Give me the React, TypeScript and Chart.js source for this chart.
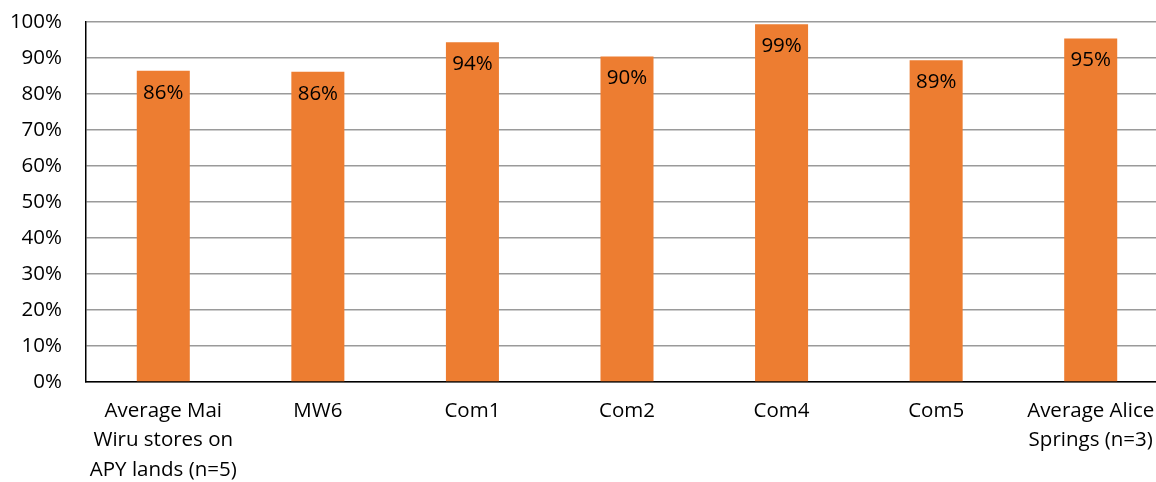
import React, { useEffect, useRef } from "react";
import { Chart, registerables } from "chart.js";

Chart.register(...registerables);

const categories: (string | string[])[] = [
  ["Average Mai", "Wiru stores on", "APY lands (n=5)"],
  "MW6",
  "Com1",
  "Com2",
  "Com4",
  "Com5",
  ["Average Alice", "Springs (n=3)"],
];
const values = [86.45, 86.2, 94.4, 90.4, 99.4, 89.4, 95.4];
const yTicks = [0, 10, 20, 30, 40, 50, 60, 70, 80, 90, 100];

const FONT = "'Open Sans', sans-serif";
const FS = 20.5;

const barLabels = {
  id: "barLabels",
  afterDatasetsDraw(chart: any) {
    const ctx = chart.ctx;
    const meta = chart.getDatasetMeta(0);
    ctx.save();
    ctx.font = `${FS}px ${FONT}`;
    ctx.fillStyle = "#000";
    ctx.textAlign = "center";
    ctx.textBaseline = "middle";
    meta.data.forEach((bar: any, i: number) => {
      ctx.fillText(Math.round(values[i]) + "%", bar.x, bar.y + 22);
    });
    ctx.restore();
  },
};

export default function App() {
  const ref = useRef<HTMLCanvasElement>(null);
  useEffect(() => {
    if (!ref.current) return;
    const chart = new Chart(ref.current, {
      type: "bar",
      data: {
        labels: categories,
        datasets: [
          {
            data: values,
            backgroundColor: "#ED7D31",
            borderWidth: 0,
            barPercentage: 0.343,
            categoryPercentage: 1,
          },
        ],
      },
      options: {
        animation: false,
        responsive: false,
        maintainAspectRatio: false,
        layout: { padding: { top: 22, left: 0, right: 0, bottom: 0 } },
        plugins: { legend: { display: false }, tooltip: { enabled: false } },
        scales: {
          x: {
            grid: { display: false, drawTicks: false },
            border: { color: "#000", width: 1.5 },
            ticks: {
              color: "#000",
              font: { family: FONT, size: FS, lineHeight: 1.44 },
              padding: 14,
              maxRotation: 0,
              autoSkip: false,
            },
            afterFit: (s: any) => {
              s.height = 100;
              s.paddingLeft = 0;
              s.paddingRight = 0;
            },
          },
          y: {
            min: 0,
            max: 100,
            afterBuildTicks: (s: any) => {
              s.ticks = yTicks.map((v) => ({ value: v }));
            },
            grid: { color: "#9a9a9a", lineWidth: 1.5, drawTicks: false },
            border: { color: "#000", width: 1.5 },
            ticks: {
              color: "#000",
              font: { family: FONT, size: FS },
              padding: 24,
              callback: (v: any) => v + "%",
            },
            afterFit: (s: any) => {
              s.width = 86;
              s.paddingTop = 0;
              s.paddingBottom = 0;
            },
          },
        },
      },
      plugins: [barLabels],
    });
    return () => chart.destroy();
  }, []);
  return (
    <div
      style={{
        position: "fixed",
        left: 0,
        top: 0,
        width: 1156,
        height: 482,
        overflow: "hidden",
        background: "#fff",
      }}
    >
      <canvas ref={ref} width={1168} height={482} style={{ display: "block" }} />
    </div>
  );
}
